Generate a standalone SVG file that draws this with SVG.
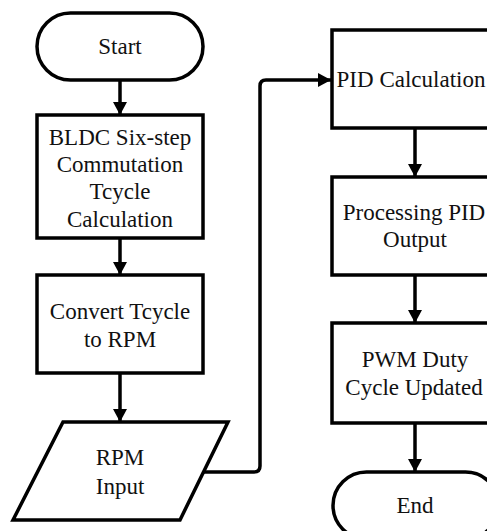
<svg xmlns="http://www.w3.org/2000/svg" width="487" height="531" viewBox="0 0 487 531">
<defs>
<marker id="ah" markerUnits="userSpaceOnUse" markerWidth="14" markerHeight="14" refX="13" refY="7" orient="auto">
<path d="M0,0 L13,7 L0,14 z" fill="#000"/>
</marker>
<style>
.s{fill:#fff;stroke:#000;stroke-width:3.5}
.c{fill:none;stroke:#000;stroke-width:3.5;marker-end:url(#ah)}
</style>
</defs>
<rect width="487" height="531" fill="#fff"/>
<g id="connectors">
<path class="c" d="M120,80 V115"/>
<path class="c" d="M120,238 V275"/>
<path class="c" d="M120,373 V422"/>
<path class="c" d="M203,472 H254 Q260,472 260,466 V86 Q260,80 266,80 H331"/>
<path class="c" d="M415,128 V177"/>
<path class="c" d="M415,275 V323"/>
<path class="c" d="M415,423 V472"/>
</g>
<g font-family="Liberation Serif, Times New Roman, DejaVu Serif, serif" font-size="23" fill="#111" text-anchor="middle">
<g id="start">
<rect class="s" x="37" y="13" width="166" height="67" rx="33.5"/>
<text x="120" y="54">Start</text>
</g>
<g id="bldc">
<rect class="s" x="37" y="115" width="166" height="123"/>
<text x="120" y="145">BLDC Six-step</text>
<text x="120" y="172">Commutation</text>
<text x="120" y="199">Tcycle</text>
<text x="120" y="227">Calculation</text>
</g>
<g id="convert">
<rect class="s" x="37" y="275" width="166" height="98"/>
<text x="120" y="319">Convert Tcycle</text>
<text x="120" y="347">to RPM</text>
</g>
<g id="rpm">
<polygon class="s" points="63,422 228,422 180,520 13,520"/>
<text x="120" y="465">RPM</text>
<text x="120" y="494">Input</text>
</g>
<g id="pid">
<rect class="s" x="332" y="30" width="166" height="98"/>
<text x="411" y="87">PID Calculation</text>
</g>
<g id="processing">
<rect class="s" x="332" y="177" width="166" height="98"/>
<text x="414" y="220">Processing PID</text>
<text x="415" y="247">Output</text>
</g>
<g id="pwm">
<rect class="s" x="332" y="323" width="166" height="100"/>
<text x="415" y="367">PWM Duty</text>
<text x="414" y="395">Cycle Updated</text>
</g>
<g id="end">
<rect class="s" x="333" y="472" width="166" height="67" rx="33.5"/>
<text x="415" y="513">End</text>
</g>
</g>
</svg>
